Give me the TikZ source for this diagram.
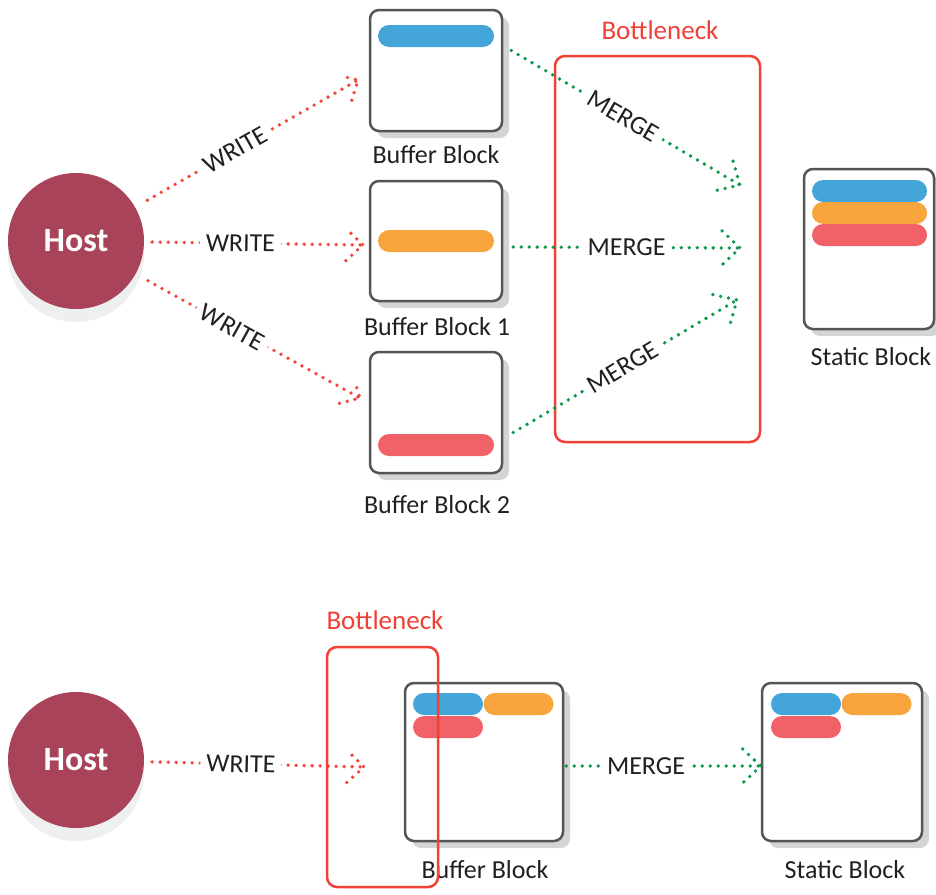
\documentclass[tikz,border=0pt]{standalone}
\usepackage{fontspec}
\setmainfont{Carlito}
\usetikzlibrary{shadows,decorations.markings,calc}
\definecolor{hostred}{HTML}{A8435A}
\definecolor{hostsh}{HTML}{EEF0F0}
\definecolor{boxdraw}{HTML}{555555}
\definecolor{boxsh}{HTML}{D3D4D6}
\definecolor{cblue}{HTML}{43A5D8}
\definecolor{corange}{HTML}{F9A53E}
\definecolor{cred}{HTML}{F06168}
\definecolor{bneck}{HTML}{EF4136}
\definecolor{wred}{HTML}{F0473E}
\definecolor{mgreen}{HTML}{0E9A48}
\definecolor{txt}{HTML}{231F20}
\tikzset{
  lblfont/.style={font=\fontsize{26}{30}\selectfont, text=txt},
  hostnode/.style={circle, fill=hostred, minimum size=136pt, inner sep=0pt,
     text=white, font=\fontsize{34}{38}\selectfont\bfseries,
     drop shadow={shadow xshift=0pt, shadow yshift=-13pt, fill=hostsh, opacity=1}},
  blockbox/.style={rectangle, draw=boxdraw, line width=2.5pt, fill=white, rounded corners=9pt,
     inner sep=0pt, drop shadow={shadow xshift=7pt, shadow yshift=-7pt, fill=boxsh, opacity=1}},
  bar/.style={rectangle, rounded corners=11pt, minimum height=22pt, inner sep=0pt, draw=none},
  neckbox/.style={draw=bneck, line width=2.5pt, rounded corners=10pt},
  necklbl/.style={font=\fontsize{27}{31}\selectfont, text=bneck},
  dotl/.style={line width=3.8pt, line cap=round, dash pattern=on 0pt off 8pt},
  wline/.style={dotl, draw=wred, postaction=decorate,
     decoration={markings, mark=at position 1 with {\draw[dotl, draw=wred] (-18pt,17pt) -- (0,0) -- (-18pt,-17pt);}}},
  mline/.style={dotl, draw=mgreen, postaction=decorate,
     decoration={markings, mark=at position 1 with {\draw[dotl, draw=mgreen] (-18pt,17pt) -- (0,0) -- (-18pt,-17pt);}}},
  onlbl/.style={sloped, fill=white, inner xsep=6pt, inner ysep=2pt, lblfont},
}
\begin{document}
\begin{tikzpicture}[x=1pt, y=-1pt]
\useasboundingbox (0,0) rectangle (936,894);

% ---------- top diagram ----------
\node[hostnode] (host) at (76,241) {Host};

\node[blockbox, minimum width=132pt, minimum height=121pt] (bb0) at (436,70.5) {};
\node[bar, fill=cblue, minimum width=116pt] (bar0) at (436,36) {};
\node[lblfont] (bb0l) at (436,155) {Buffer Block};

\node[blockbox, minimum width=132pt, minimum height=120pt] (bb1) at (436,241) {};
\node[bar, fill=corange, minimum width=116pt] (bar1) at (436,241) {};
\node[lblfont] (bb1l) at (437,327) {Buffer Block 1};

\node[blockbox, minimum width=132pt, minimum height=121pt] (bb2) at (436,412.5) {};
\node[bar, fill=cred, minimum width=116pt] (bar2) at (436,445) {};
\node[lblfont] (bb2l) at (437,505) {Buffer Block 2};

\node[blockbox, minimum width=130pt, minimum height=160pt] (sb) at (869,249) {};
\node[bar, fill=cblue, minimum width=115pt] (sbar0) at (869.5,191) {};
\node[bar, fill=corange, minimum width=115pt] (sbar1) at (869.5,213) {};
\node[bar, fill=cred, minimum width=115pt] (sbar2) at (869.5,235) {};
\node[lblfont] (sbl) at (871,357) {Static Block};

\draw[neckbox] (555,56) rectangle (760,442);
\node[necklbl] (neck1) at (660,30) {Bottleneck};

\coordinate (wt0) at (358,80);
\coordinate (wt1) at (363,245);
\coordinate (wt2) at (360,398);
\draw[wline, shorten <=14pt] (host) -- (wt0) node[pos=.45, onlbl] {WRITE};
\draw[wline, shorten <=8pt] (host) -- (wt1) node[pos=.44, onlbl] {WRITE};
\draw[wline, shorten <=14pt] (host) -- (wt2) node[pos=.43, onlbl] {WRITE};

\coordinate (mt0) at (740,185);
\coordinate (mt1) at (740,248);
\coordinate (mt2) at (737,300);
\draw[mline] ([xshift=8pt,yshift=20pt]bb0.east) -- (mt0) node[pos=.49, onlbl] {MERGE};
\draw[mline] ([xshift=10pt,yshift=-6pt]bb1.east) -- (mt1) node[pos=.5, onlbl] {MERGE};
\draw[mline] ([xshift=10pt,yshift=-20pt]bb2.east) -- (mt2) node[pos=.49, onlbl] {MERGE};

% ---------- bottom diagram ----------
\node[hostnode] (host2) at (76,760) {Host};

\node[blockbox, minimum width=158pt, minimum height=158pt] (buf) at (484,762) {};
\node[bar, fill=cblue, minimum width=70pt] (bbar0) at (448,704) {};
\node[bar, fill=corange, minimum width=70pt] (bbar1) at (518.5,704) {};
\node[bar, fill=cred, minimum width=70pt] (bbar2) at (448,727) {};
\node[lblfont] (bufl) at (485,870) {Buffer Block};

\node[blockbox, minimum width=160pt, minimum height=158pt] (stat) at (842,762) {};
\node[bar, fill=cblue, minimum width=70pt] (tbar0) at (806,704) {};
\node[bar, fill=corange, minimum width=70pt] (tbar1) at (876.5,704) {};
\node[bar, fill=cred, minimum width=70pt] (tbar2) at (806,727) {};
\node[lblfont] (statl) at (845,870) {Static Block};

\coordinate (wb) at (364,767);
\draw[wline, shorten <=8pt] (host2) -- (wb) node[pos=.44, onlbl] {WRITE};
\draw[mline] ([xshift=2pt,yshift=-4pt]buf.east) -- ([yshift=-4pt]stat.west) node[pos=.41, onlbl] {MERGE};

\draw[neckbox] (327,647) rectangle (438,887);
\node[necklbl] (neck2) at (385,620) {Bottleneck};
\end{tikzpicture}
\end{document}
